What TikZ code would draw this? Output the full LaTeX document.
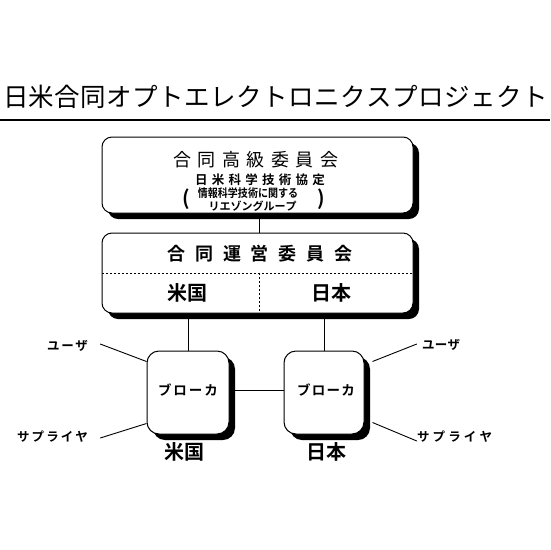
\documentclass[tikz,border=0pt]{standalone}
\usepackage{fontspec}
\usetikzlibrary{shadows}
\newfontfamily\jp{Noto Sans CJK JP}[BoldFont={Noto Sans CJK JP Bold}]
\newcommand{\fs}[1]{\fontsize{#1}{#1}\selectfont}
\newcommand{\spr}[2]{\makebox[#1][s]{#2}}
\begin{document}
\begin{tikzpicture}[x=1pt,y=-1pt,
  txt/.style={inner sep=0pt,anchor=center,font=\jp},
  panel/.style={draw=black,line width=1pt,fill=white,rounded corners=10pt,
    drop shadow={shadow xshift=6pt,shadow yshift=-6pt,opacity=1,fill=black}},
  conn/.style={draw=black,line width=0.9pt},
  sep/.style={draw=black,line width=0.8pt,dash pattern=on 2pt off 2pt}]
\useasboundingbox[fill=white] (0,0) rectangle (550,550);
% title
\node[txt] (title) at (275.5,97) {\fs{25.5}\spr{545pt}{日\hfil 米\hfil 合\hfil 同\hfil オ\hfil プ\hfil ト\hfil エ\hfil レ\hfil ク\hfil ト\hfil ロ\hfil ニ\hfil ク\hfil ス\hfil プ\hfil ロ\hfil ジ\hfil ェ\hfil ク\hfil ト}};
\coordinate (rl) at (0,120);
\coordinate (rr) at (550,120);
\draw[line width=2pt] (rl) -- (rr);
% top box
\node[panel,minimum width=311pt,minimum height=76pt] (top) at (257.5,175) {};
\node[txt] (t1) at (256,160) {\fs{18}\spr{165pt}{合\hfil 同\hfil 高\hfil 級\hfil 委\hfil 員\hfil 会}};
\node[txt] (t2) at (260,180) {\fs{12.5}\bfseries\spr{130pt}{日\hfil 米\hfil 科\hfil 学\hfil 技\hfil 術\hfil 協\hfil 定}};
\node[txt] (t3) at (248,193) {\fs{11.5}\bfseries\scalebox{0.87}[1]{情報科学技術に関する}};
\node[txt] (t4) at (252,206) {\fs{11}\bfseries\spr{87pt}{リ\hfil エ\hfil ゾ\hfil ン\hfil グ\hfil ル\hfil ー\hfil プ}};
\node[txt] (pl) at (186,199) {\fs{20}\bfseries (};
\node[txt] (pr) at (321,199) {\fs{20}\bfseries )};
% middle box
\node[panel,minimum width=311pt,minimum height=80pt] (mid) at (257.5,273) {};
\coordinate (dl) at (102,273);
\coordinate (dr) at (413,273);
\coordinate (dt) at (259,273);
\coordinate (db) at (259,313);
\draw[sep] (dl) -- (dr);
\draw[sep] (dt) -- (db);
\node[txt] (m1) at (260,254) {\fs{18}\bfseries\spr{185pt}{合\hfil 同\hfil 運\hfil 営\hfil 委\hfil 員\hfil 会}};
\node[txt] (mUS) at (187,293) {\fs{20}\bfseries 米国};
\node[txt] (mJP) at (331,293) {\fs{20}\bfseries 日本};
\draw[conn] ([xshift=1.5pt]top.south) -- ([xshift=1.5pt]mid.north);
% brokers
\node[panel,rounded corners=12pt,minimum width=82pt,minimum height=83pt] (bL) at (188,392.5) {};
\node[panel,rounded corners=12pt,minimum width=80pt,minimum height=83pt] (bR) at (324,392.5) {};
\node[txt] (bLt) at (188,390) {\fs{13.5}\bfseries\spr{60pt}{ブ\hfil ロ\hfil ー\hfil カ}};
\node[txt] (bRt) at (326,390) {\fs{13.5}\bfseries\spr{58pt}{ブ\hfil ロ\hfil ー\hfil カ}};
\draw[conn] (bL.north) -- (bL.north |- mid.south);
\draw[conn] (bR.north) -- (bR.north |- mid.south);
\draw[conn] ([yshift=2.5pt]bL.east) -- ([yshift=2.5pt]bR.west);
% users / suppliers
\node[txt] (uL) at (67.5,346) {\fs{12.5}\bfseries\spr{41pt}{ユ\hfil ー\hfil ザ}};
\node[txt] (sL) at (52.5,437) {\fs{12.5}\bfseries\spr{71pt}{サ\hfil プ\hfil ラ\hfil イ\hfil ヤ}};
\node[txt] (uR) at (441,345) {\fs{12.5}\bfseries\spr{38pt}{ユ\hfil ー\hfil ザ}};
\node[txt] (sR) at (454.5,437) {\fs{12.5}\bfseries\spr{75pt}{サ\hfil プ\hfil ラ\hfil イ\hfil ヤ}};
\draw[conn] ([xshift=12pt,yshift=2pt]uL.east) -- ([yshift=-11pt]bL.north west);
\draw[conn] ([xshift=12pt,yshift=-1pt]sL.east) -- ([yshift=11pt]bL.south west);
\draw[conn] ([xshift=8pt,yshift=-11pt]bR.north east) -- ([xshift=-5pt,yshift=1pt]uR.west);
\draw[conn] ([xshift=8pt,yshift=12pt]bR.south east) -- ([xshift=0pt,yshift=-4pt]sR.west);
% country labels
\node[txt] (cUS) at (184.5,452) {\fs{20}\bfseries 米国};
\node[txt] (cJP) at (326,452) {\fs{20}\bfseries 日本};
\end{tikzpicture}
\end{document}
